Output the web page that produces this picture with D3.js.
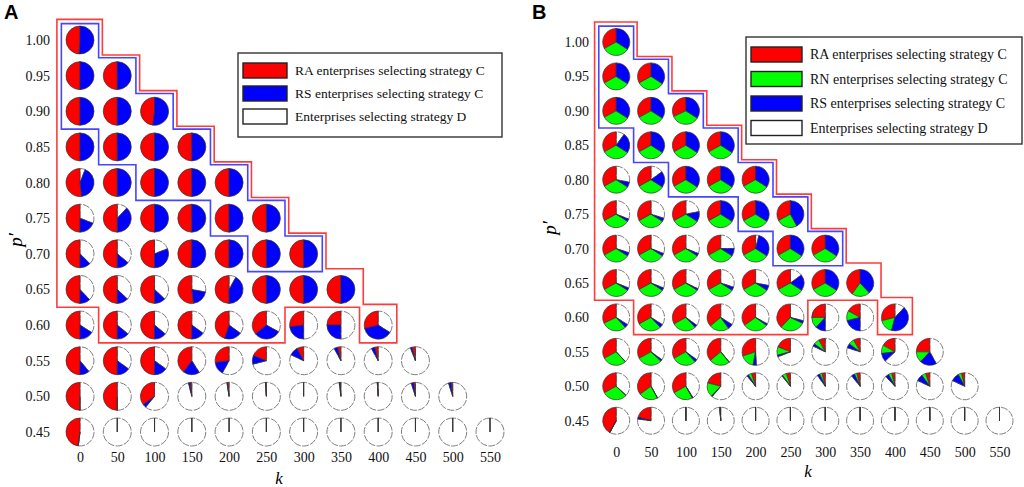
<!DOCTYPE html>
<html>
<head>
<meta charset="utf-8">
<script src="https://cdn.jsdelivr.net/npm/d3@7"></script>
<style>
body { margin: 0; background: #fff; }
text { font-family: "Liberation Serif", "Times New Roman", serif; }
</style>
</head>
<body>
<svg id="chart" width="1024" height="487"></svg>
<script>
const kValues = [0, 50, 100, 150, 200, 250, 300, 350, 400, 450, 500, 550];
const pValues = [1.00, 0.95, 0.90, 0.85, 0.80, 0.75, 0.70, 0.65, 0.60, 0.55, 0.50, 0.45];

// panel A: share of each group choosing C, rows p' = 1.00 -> 0.45
const raA = [
    [0.49],
    [0.5, 0.5],
    [0.5, 0.5, 0.48],
    [0.5, 0.5, 0.5, 0.5],
    [0.52, 0.5, 0.5, 0.5, 0.5],
    [0.5, 0.5, 0.5, 0.5, 0.5, 0.5],
    [0.5, 0.5, 0.5, 0.49, 0.5, 0.5, 0.5],
    [0.5, 0.5, 0.5, 0.52, 0.5, 0.5, 0.5, 0.5],
    [0.5, 0.5, 0.5, 0.5, 0.45, 0.36, 0.27, 0.25, 0.29],
    [0.5, 0.5, 0.5, 0.4, 0.27, 0.19, 0.08, 0.04, 0.04, 0.04],
    [0.5, 0.5, 0.35, 0.02, 0.02, 0.01, 0, 0.01, 0.01, 0.02, 0.02],
    [0.48, 0, 0, 0, 0, 0, 0, 0, 0, 0, 0, 0]
];
const rsA = [
    [0.51],
    [0.5, 0.5],
    [0.5, 0.5, 0.52],
    [0.5, 0.5, 0.5, 0.5],
    [0.42, 0.5, 0.5, 0.5, 0.5],
    [0.19, 0.38, 0.5, 0.5, 0.5, 0.5],
    [0.125, 0.14, 0.31, 0.51, 0.5, 0.5, 0.5],
    [0.12, 0.13, 0.13, 0.2, 0.42, 0.5, 0.5, 0.5],
    [0.16, 0.14, 0.14, 0.15, 0.2, 0.31, 0.23, 0.25, 0.37],
    [0.11, 0.15, 0.15, 0.19, 0.15, 0.1, 0.1, 0.04, 0.04, 0.02],
    [0, 0, 0.04, 0.02, 0.005, 0, 0, 0.01, 0, 0.03, 0.03],
    [0, 0, 0, 0, 0, 0, 0, 0, 0, 0, 0, 0]
];

// panel B
const raB = [
    [0.33],
    [0.33, 0.33],
    [0.33, 0.33, 0.32],
    [0.33, 0.33, 0.33, 0.33],
    [0.33, 0.33, 0.33, 0.33, 0.33],
    [0.33, 0.33, 0.33, 0.33, 0.33, 0.33],
    [0.33, 0.33, 0.33, 0.33, 0.33, 0.33, 0.33],
    [0.33, 0.33, 0.33, 0.33, 0.33, 0.33, 0.33, 0.4],
    [0.32, 0.33, 0.33, 0.36, 0.35, 0.38, 0.25, 0.17, 0.29],
    [0.33, 0.33, 0.33, 0.36, 0.3, 0.19, 0.08, 0.08, 0.17, 0.25],
    [0.33, 0.35, 0.33, 0.21, 0.05, 0.05, 0.04, 0.04, 0.04, 0.05, 0.04],
    [0.42, 0.21, 0, 0.01, 0, 0, 0, 0, 0, 0, 0, 0]
];
const rnB = [
    [0.33],
    [0.33, 0.33],
    [0.33, 0.33, 0.34],
    [0.33, 0.33, 0.33, 0.33],
    [0.33, 0.33, 0.33, 0.33, 0.33],
    [0.33, 0.33, 0.33, 0.33, 0.33, 0.25],
    [0.33, 0.33, 0.33, 0.33, 0.33, 0.33, 0.33],
    [0.33, 0.33, 0.33, 0.33, 0.33, 0.33, 0.33, 0.22],
    [0.3, 0.29, 0.29, 0.24, 0.3, 0.3, 0.13, 0.12, 0.17],
    [0.29, 0.3, 0.29, 0.25, 0.17, 0.1, 0.07, 0.07, 0.1, 0.13],
    [0.3, 0.23, 0.25, 0.17, 0.04, 0.05, 0.03, 0.03, 0.04, 0.05, 0.04],
    [0, 0, 0, 0, 0, 0, 0, 0, 0, 0, 0, 0]
];
const rsB = [
    [0.34],
    [0.34, 0.34],
    [0.34, 0.34, 0.34],
    [0.24, 0.34, 0.34, 0.34],
    [0.06, 0.19, 0.34, 0.34, 0.34],
    [0.03, 0.04, 0.12, 0.34, 0.34, 0.42],
    [0.04, 0.03, 0.03, 0.09, 0.3, 0.34, 0.34],
    [0.03, 0.03, 0.02, 0.04, 0.06, 0.19, 0.34, 0.38],
    [0.04, 0.04, 0.03, 0.06, 0.02, 0.03, 0.12, 0.21, 0.42],
    [0, 0.02, 0.03, 0, 0.04, 0.02, 0.03, 0.05, 0.1, 0.2],
    [0, 0, 0.01, 0.01, 0.02, 0.01, 0.03, 0.04, 0.04, 0.08, 0.1],
    [0, 0.02, 0, 0, 0, 0, 0, 0, 0, 0, 0, 0]
];

// region outlines in (k, p') units
const redBox = [[-31, 1.029], [30, 1.029], [30, 0.979], [80, 0.979], [80, 0.929], [130, 0.929],
    [130, 0.879], [180, 0.879], [180, 0.829], [230, 0.829], [230, 0.779], [280, 0.779],
    [280, 0.729], [330, 0.729], [330, 0.679], [380, 0.679], [380, 0.629], [425, 0.629],
    [425, 0.575], [375, 0.575], [375, 0.625], [275, 0.625], [275, 0.575], [25, 0.575],
    [25, 0.625], [-31, 0.625]];
const blueBox = [[-25, 1.023], [25, 1.023], [25, 0.975], [75, 0.975], [75, 0.925], [125, 0.925],
    [125, 0.875], [175, 0.875], [175, 0.825], [225, 0.825], [225, 0.775], [275, 0.775],
    [275, 0.725], [325, 0.725], [325, 0.675], [225, 0.675], [225, 0.725], [175, 0.725],
    [175, 0.775], [75, 0.775], [75, 0.825], [25, 0.825], [25, 0.875], [-25, 0.875]];

const RED = "#ff0000", GREEN = "#00ff00", BLUE = "#0000ff";

const svg = d3.select("#chart");

function drawPanel(o) {
    const g = svg.append("g");
    const x = d3.scaleLinear().domain([0, 550]).range(o.xRange);
    const y = d3.scaleLinear().domain([0.45, 1.00]).range(o.yRange);
    const line = d3.line().x(d => x(d[0])).y(d => y(d[1]));

    g.append("path").attr("d", line(redBox) + "Z")
        .attr("fill", "none").attr("stroke", "#ff3c3c").attr("stroke-width", 1.6);
    g.append("path").attr("d", line(blueBox) + "Z")
        .attr("fill", "none").attr("stroke", "#4646ff").attr("stroke-width", 1.6);

    const pie = d3.pie().sort(null).startAngle(0).endAngle(-2 * Math.PI);
    const arc = d3.arc().innerRadius(0).outerRadius(o.r);
    const colors = o.colors.concat(["#ffffff"]);

    pValues.forEach((p, r) => {
        o.series[0][r].forEach((_, c) => {
            const vals = o.series.map(s => s[r][c]);
            vals.push(Math.max(0, 1 - d3.sum(vals)));
            const cell = g.append("g")
                .attr("transform", `translate(${x(kValues[c])},${y(p)})`);
            const slices = pie(vals);
            // white part first so the coloured edges sit on top
            cell.append("path").datum(slices[slices.length - 1])
                .attr("d", arc)
                .attr("fill", "#fff")
                .attr("stroke", "#808080")
                .attr("stroke-width", 1)
                .attr("stroke-dasharray", "7 1.4");
            cell.selectAll("path.slice")
                .data(slices.slice(0, -1))
                .enter()
                .append("path")
                .attr("class", "slice")
                .attr("d", arc)
                .attr("fill", (d, i) => colors[i])
                .attr("stroke", "#333")
                .attr("stroke-width", 0.7);
        });
    });

    // tick labels only
    const xa = g.append("g")
        .attr("transform", `translate(0,${o.xLabelY})`)
        .call(d3.axisBottom(x).tickValues(kValues).tickSize(0).tickPadding(0).tickFormat(d3.format("d")));
    xa.select(".domain").remove();
    xa.selectAll("text").attr("y", 0).attr("dy", "0.35em")
        .style("font-family", "Liberation Serif").style("font-size", "14px").attr("fill", "#111");

    const ya = g.append("g")
        .attr("transform", `translate(${o.yLabelX},0)`)
        .call(d3.axisLeft(y).tickValues(pValues).tickSize(0).tickPadding(0).tickFormat(d3.format(".2f")));
    ya.select(".domain").remove();
    ya.selectAll("text").attr("x", 0)
        .style("font-family", "Liberation Serif").style("font-size", "14px").attr("fill", "#111");

    g.append("text")
        .attr("x", o.kLabel[0]).attr("y", o.kLabel[1])
        .attr("text-anchor", "middle")
        .style("font-style", "italic").style("font-size", "17px")
        .text("k");
    g.append("text")
        .attr("transform", `translate(${o.pLabel[0]},${o.pLabel[1]}) rotate(-90)`)
        .attr("text-anchor", "middle")
        .style("font-style", "italic").style("font-size", "19px")
        .text("p\u2032");

    g.append("text")
        .attr("x", o.letter[0]).attr("y", o.letter[1])
        .style("font-family", "Liberation Sans, Arial, sans-serif")
        .style("font-weight", "bold").style("font-size", "20px")
        .text(o.name);

    // legend
    const L = o.legend;
    const lg = g.append("g");
    lg.append("rect")
        .attr("x", L.x).attr("y", L.y).attr("width", L.w).attr("height", L.h)
        .attr("fill", "#fff").attr("stroke", "#333").attr("stroke-width", 1.4);
    L.items.forEach((it, i) => {
        const yy = L.y + L.top + i * L.step;
        lg.append("rect")
            .attr("x", L.x + 5).attr("y", yy).attr("width", L.sw).attr("height", 15)
            .attr("fill", it[1]).attr("stroke", "#222").attr("stroke-width", 1.4);
        lg.append("text")
            .attr("x", L.x + L.sw + 13).attr("y", yy + 12)
            .style("font-size", L.fs + "px").attr("fill", "#111")
            .text(it[0]);
    });
}

drawPanel({
    name: "A",
    xRange: [80, 490], yRange: [432, 40], r: 14,
    series: [raA, rsA], colors: [RED, BLUE],
    xLabelY: 457, yLabelX: 50,
    kLabel: [279, 484], pLabel: [22, 240], letter: [4, 19],
    legend: {
        x: 238, y: 53, w: 264, h: 84, top: 10, step: 23, sw: 44, fs: 13.5,
        items: [["RA enterprises selecting strategy C", RED],
                ["RS enterprises selecting strategy C", BLUE],
                ["Enterprises selecting strategy D", "#fff"]]
    }
});

drawPanel({
    name: "B",
    xRange: [616.2, 999.5], yRange: [420.7, 42], r: 13.5,
    series: [raB, rnB, rsB], colors: [RED, GREEN, BLUE],
    xLabelY: 452, yLabelX: 589,
    kLabel: [808, 477], pLabel: [556, 228], letter: [532, 19],
    legend: {
        x: 746, y: 37, w: 276, h: 107, top: 10, step: 24.5, sw: 51, fs: 14,
        items: [["RA enterprises selecting strategy C", RED],
                ["RN enterprises selecting strategy C", GREEN],
                ["RS enterprises selecting strategy C", BLUE],
                ["Enterprises selecting strategy D", "#fff"]]
    }
});
</script>
</body>
</html>
